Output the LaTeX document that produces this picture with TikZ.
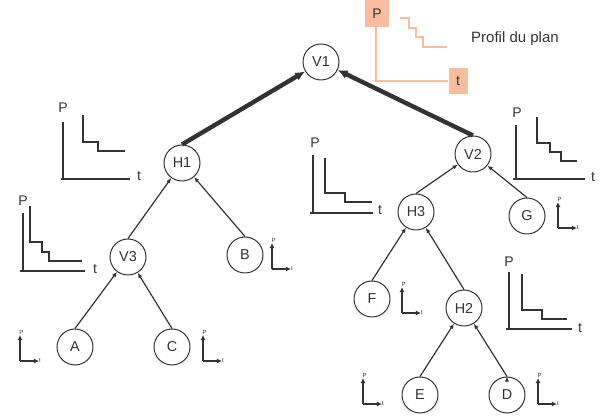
\documentclass[tikz,border=0pt]{standalone}
\usepackage{fontspec}
\setmainfont{Liberation Sans}
\usetikzlibrary{arrows.meta}
\definecolor{fonce}{HTML}{333333}
\definecolor{saumon}{HTML}{F9BC9C}

\begin{document}
\begin{tikzpicture}[x=0.5pt,y=-0.5pt,>={Latex[length=2.6pt,width=2.2pt]},
  noeud/.style={circle,draw=fonce,line width=0.5pt,minimum size=18pt,inner sep=0pt,fill=white,font=\fontsize{7.2}{8}\selectfont,text=fonce},
  fin/.style={draw=fonce,line width=0.6pt},
  gros/.style={draw=fonce,line width=2.2pt,-{Latex[length=5pt,width=4.5pt]}},
  axe/.style={draw=fonce,line width=1pt},
  courbe/.style={draw=fonce,line width=0.6pt},
  lab/.style={font=\fontsize{7}{8}\selectfont,text=fonce,inner sep=0pt},
  mini/.style={draw=fonce,line width=0.8pt,-{Latex[length=2.6pt,width=2.6pt]}},
  minilab/.style={font=\fontsize{3}{3.5}\selectfont,text=fonce,inner sep=0pt}]
  \useasboundingbox (0,0) rectangle (600,416);

  % arbre
  \node[noeud] (V1) at (321,62)  {V1};
  \node[noeud] (H1) at (182,163) {H1};
  \node[noeud] (V2) at (473,154) {V2};
  \node[noeud] (V3) at (128,257) {V3};
  \node[noeud] (B)  at (245,255) {B};
  \node[noeud] (H3) at (416,212) {H3};
  \node[noeud] (G)  at (527,216) {G};
  \node[noeud] (F)  at (372,299) {F};
  \node[noeud] (H2) at (464,308) {H2};
  \node[noeud] (A)  at (75,347)  {A};
  \node[noeud] (C)  at (172,347) {C};
  \node[noeud] (E)  at (420,395) {E};
  \node[noeud] (D)  at (507,395) {D};

  \draw[gros] (H1.north) -- (V1);
  \draw[gros] (V2.north) -- (V1);

  \path[->,fin]
         (V3.north) edge (H1)
         (B.north)  edge (H1)
         (A.north)  edge (V3)
         (C.north)  edge (V3)
         (H3.north) edge (V2)
         (G.north)  edge (V2)
         (F.north)  edge (H3)
         (H2.north) edge (H3)
         (E.north)  edge (H2)
         (D.north)  edge (H2);

  % petits profils
  \foreach \x/\y [count=\i] in {20/361,203/361,272/269,402/313,558/228,363/404,538/404}
  {
    \draw[mini] (\x,\y) -- ++(0,-26);
    \draw[mini] (\x,\y) -- ++(19,0);
    \node[minilab] (mp\i) at (\x+1.5,\y-29) {P};
    \node[minilab] (mt\i) at (\x+20,\y) {t};
  }

  % profil H1
  \draw[axe] (63,122) -- (63,179);
  \draw[axe] (61,179) -- (130,179);
  \node[lab] (pH1) at (63,108) {P};
  \node[lab] (tH1) at (139,176) {t};
  \draw[courbe] (83,115) -- (83,142) -- (98,142) -- (98,151) -- (125,151);

  % profil V3
  \draw[axe] (23,213) -- (23,271);
  \draw[axe] (20,271) -- (85,271);
  \node[lab] (pV3) at (23,201) {P};
  \node[lab] (tV3) at (95,269) {t};
  \draw[courbe] (30,206) -- (30,242) -- (42,242) -- (42,252) -- (49,252) -- (49,261) -- (82,261);

  % profil H3
  \draw[axe] (313,155) -- (313,213);
  \draw[axe] (310,213) -- (373,213);
  \node[lab] (pH3) at (315,143) {P};
  \node[lab] (tH3) at (380,210) {t};
  \draw[courbe] (325,158) -- (325,193) -- (345,193) -- (345,202) -- (372,202);

  % profil V2
  \draw[axe] (516,125) -- (516,179);
  \draw[axe] (513,179) -- (585,179);
  \node[lab] (pV2) at (517,113) {P};
  \node[lab] (tV2) at (593,177) {t};
  \draw[courbe] (537,117) -- (537,143) -- (550,143) -- (550,152) -- (561,152) -- (561,161) -- (577,161);

  % profil H2
  \draw[axe] (509,272) -- (509,329);
  \draw[axe] (506,329) -- (572,329);
  \node[lab] (pH2) at (509,262) {P};
  \node[lab] (tH2) at (580,328) {t};
  \draw[courbe] (522,274) -- (522,310) -- (542,310) -- (542,319) -- (567,319);

  % legende
  \node[lab,fill=saumon,minimum width=12pt,minimum height=13.5pt] (Pleg) at (377,13.5) {P};
  \node[lab,fill=saumon,minimum width=9.5pt,minimum height=13pt] (tleg) at (458,81) {t};
  \draw[saumon,line width=0.7pt] (Pleg.south -| 376,0) |- (tleg.west);
  \draw[saumon,line width=0.7pt] (401,18) -- (409,18) -- (409,28) -- (416,28) -- (416,37) -- (423,37) -- (423,47) -- (446,47);
  \foreach \x/\y in {401/18,409/28,416/37,423/47,446/47}
    \fill[saumon] (\x-1.3,\y-1.3) rectangle (\x+1.3,\y+1.3);
  \node[lab,font=\fontsize{7.5}{9}\selectfont] (titre) at (515,39) {Profil du plan};
\end{tikzpicture}
\end{document}
